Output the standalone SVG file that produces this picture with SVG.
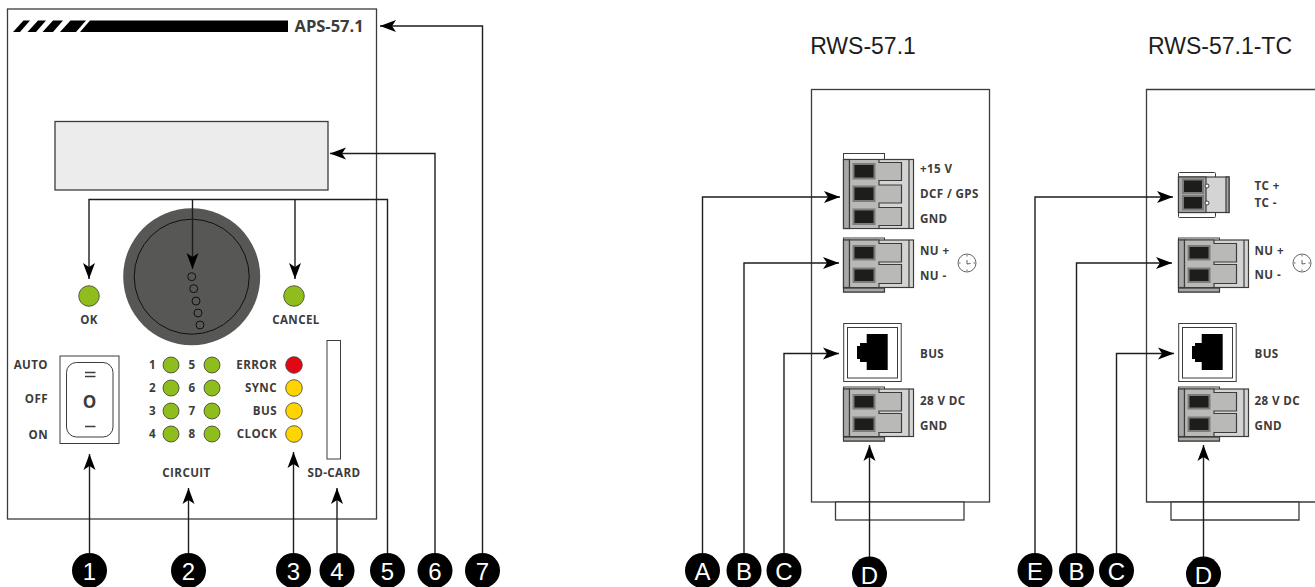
<svg xmlns="http://www.w3.org/2000/svg" width="1315" height="587" viewBox="0 0 1315 587">
<style>
text{font-family:"Open Sans","Liberation Sans",sans-serif}
.l{font-size:11.6px;font-weight:700;fill:#3c3c3b;letter-spacing:.4px}
.m{text-anchor:middle}.e{text-anchor:end}
.box{fill:#fff;stroke:#3c3c3b;stroke-width:1.3}
.c{fill:none;stroke:#1d1d1b;stroke-width:1.4;marker-end:url(#a)}
.led{stroke:#3c3c3b;stroke-width:.8}
.g{fill:#8fbe1c}.y{fill:#ffd500}.r{fill:#e30613}
.b{fill:#000}
.n{font-family:"Liberation Sans",Arial,sans-serif;font-size:24px;fill:#fff;text-anchor:middle}
.t{font-family:"Liberation Sans",Arial,sans-serif;font-size:23px;fill:#1d1d1b;text-anchor:middle}
.bd{fill:#d4d4d4;stroke:#3c3c3b;stroke-width:1.2}
.st{fill:#a8a8a7;stroke:#3c3c3b;stroke-width:1.2}
.fg{fill:#b9b9b8;stroke:#3c3c3b;stroke-width:1.2}
.pn{fill:#1d1d1b;stroke:#7c7c7b;stroke-width:2}
.wt{fill:#fff;stroke:#3c3c3b;stroke-width:1}
.ck{fill:none;stroke:#3c3c3b;stroke-width:.8}
</style>
<defs>
<marker id="a" markerUnits="userSpaceOnUse" markerWidth="17" markerHeight="13" refX="16" refY="6.5" orient="auto"><path d="M0,.5 L16,6.5 L0,12.5 L4,6.500z" fill="#000"/></marker>
<g id="ck"><circle r="9" class="ck"/><path d="M0,-3V1L3.500,.5" class="ck"/><path d="M0,-8v1.500M0,8v-1.500M-8,0h1.500M8,0h-1.500" class="ck"/></g>
<g id="two">
<rect x="843.500" y="238" width="41" height="54" class="wt"/>
<rect x="843.500" y="288" width="41" height="4" class="st"/>
<rect x="843.500" y="240" width="70" height="47.500" class="bd"/>
<rect x="843.500" y="240" width="6" height="47.500" class="st"/>
<path d="M849.500,240H879V243.500H901.500V262H879V264.500H901.500V283.500H879V287.500H849.500z" class="fg"/>
<rect x="853.500" y="246" width="21" height="13.500" class="pn"/>
<rect x="853.500" y="268.500" width="21" height="13.500" class="pn"/>
<path d="M909,240V287.500" stroke="#3c3c3b" stroke-width="1.200"/>
</g>
</defs>
<g id="aps">
<rect x="7.500" y="9" width="369" height="510" class="box"/>
<path class="b" d="M13,32L23.500,20.500H30L20,32zM27.500,32L38,20.500H46L36,32zM42.500,32L53,20.500H63L53,32zM60,32L70.500,20.500H86L76,32zM80,32L90,20.500H288V32z"/>
<text x="294.500" y="32" font-size="16.500" font-weight="700" fill="#3c3c3b">APS-57.1</text>
</g>
<g id="display"><rect x="55" y="121.500" width="273" height="68.500" fill="#ececec" stroke="#3c3c3b" stroke-width="1.300"/></g>
<g id="knob">
<circle cx="191.700" cy="276.700" r="68.500" fill="#575756"/>
<circle cx="191.700" cy="276.700" r="57.500" fill="none" stroke="#111" stroke-width="1"/>
<g fill="none" stroke="#111" stroke-width="1"><circle cx="191.700" cy="276.700" r="4"/><circle cx="193.700" cy="288.700" r="4"/><circle cx="196" cy="301" r="4"/><circle cx="198" cy="313" r="4"/><circle cx="200" cy="325" r="4"/></g>
</g>
<g id="ok"><circle cx="89" cy="296" r="10.300" class="led g"/><text x="89" y="324" class="l m">OK</text></g>
<g id="cancel"><circle cx="294" cy="296" r="10.300" class="led g"/><text x="296" y="324" class="l m">CANCEL</text></g>
<g id="switch">
<text x="48" y="369" class="l e">AUTO</text><text x="48" y="403" class="l e">OFF</text><text x="48" y="439" class="l e">ON</text>
<rect x="60" y="356" width="59" height="87.500" fill="#fff" stroke="#3c3c3b" stroke-width="1"/>
<rect x="66.500" y="362.500" width="46.500" height="74.500" rx="10" fill="#fff" stroke="#3c3c3b" stroke-width="1"/>
<path d="M85,372.500h10.500M85,376.500h10.500M85,426.500h10.500" stroke="#3c3c3b" stroke-width="1.500"/>
<text x="89.500" y="407.500" class="m" font-size="17" font-weight="700" fill="#3c3c3b">O</text>
</g>
<g id="circuit">
<g class="l e"><text x="156" y="369">1</text><text x="156" y="392">2</text><text x="156" y="415">3</text><text x="156" y="438">4</text><text x="195.500" y="369">5</text><text x="195.500" y="392">6</text><text x="195.500" y="415">7</text><text x="195.500" y="438">8</text></g>
<g class="led g"><circle cx="171" cy="365" r="8"/><circle cx="171" cy="388" r="8"/><circle cx="171" cy="411" r="8"/><circle cx="171" cy="434" r="8"/><circle cx="212" cy="365" r="8"/><circle cx="212" cy="388" r="8"/><circle cx="212" cy="411" r="8"/><circle cx="212" cy="434" r="8"/></g>
<text x="186.500" y="477" class="l m">CIRCUIT</text>
</g>
<g id="status">
<text x="277" y="369" class="l e">ERROR</text><text x="277" y="392" class="l e">SYNC</text><text x="277" y="415" class="l e">BUS</text><text x="277" y="438" class="l e">CLOCK</text>
<circle cx="294" cy="365" r="8.300" class="led r"/><circle cx="294" cy="388" r="8.300" class="led y"/><circle cx="294" cy="411" r="8.300" class="led y"/><circle cx="294" cy="434" r="8.300" class="led y"/>
</g>
<g id="sdcard"><rect x="327" y="340.500" width="13.500" height="118.500" fill="#fff" stroke="#3c3c3b" stroke-width="1"/><text x="334" y="477" class="l m">SD-CARD</text></g>

<g id="rws">
<rect x="811.500" y="89.500" width="178" height="412.500" class="box"/>
<rect x="835.500" y="502" width="128.500" height="18" class="box"/>
<text x="863" y="54" class="t">RWS-57.1</text>
</g>
<g id="rws-dcf">
<rect x="843.500" y="153.500" width="41" height="10" class="wt"/>
<rect x="843.500" y="159.500" width="70" height="69" class="bd"/>
<rect x="843.500" y="159.500" width="6" height="69" class="st"/>
<path d="M849.500,159.500H879V162.500H901.500V180.500H879V185H901.500V203H879V207.500H901.500V225.500H879V228.500H849.500z" class="fg"/>
<rect x="853.500" y="164" width="21" height="14.500" class="pn"/><rect x="853.500" y="186.500" width="21" height="14.500" class="pn"/><rect x="853.500" y="209.500" width="21" height="14.500" class="pn"/>
<path d="M909,159.500V228.500" stroke="#3c3c3b" stroke-width="1.200"/>
<g class="l"><text x="920" y="173">+15 V</text><text x="920" y="198">DCF / GPS</text><text x="920" y="223">GND</text></g>
</g>
<g id="rws-nu"><use href="#two"/><g class="l"><text x="920" y="255">NU +</text><text x="920" y="280">NU -</text></g><use href="#ck" x="967" y="263"/></g>
<g id="rws-bus">
<rect x="843.700" y="323.500" width="57.500" height="58" class="wt"/><rect x="847.500" y="327.500" width="50" height="50.500" class="wt"/>
<path class="b" d="M866.700,334H887.700V370H866.700V362H860V359H857V346H860V343H866.700z"/>
<text x="920" y="358" class="l">BUS</text>
</g>
<g id="rws-pwr"><use href="#two" y="149"/><g class="l"><text x="920" y="405">28 V DC</text><text x="920" y="430">GND</text></g></g>

<g id="rwstc">
<path d="M1315,89.500H1146.500V502H1315" class="box"/>
<path d="M1171,502V520H1299V502z" class="box"/>
<text x="1220" y="54" class="t">RWS-57.1-TC</text>
</g>
<g id="tc-tc">
<rect x="1178.500" y="172.500" width="37" height="45" rx="1" class="wt"/>
<rect x="1178.500" y="177" width="50.500" height="35.500" class="bd"/>
<rect x="1178.500" y="177" width="27.500" height="35.500" class="st"/>
<rect x="1226" y="177" width="3" height="35.500" class="st"/>
<rect x="1183" y="179.500" width="20" height="13.500" class="pn"/><rect x="1183" y="196" width="20" height="13.500" class="pn"/>
<circle cx="1207" cy="186" r="2" class="wt"/><circle cx="1207" cy="203" r="2" class="wt"/>
<g class="l"><text x="1254.500" y="190">TC +</text><text x="1254.500" y="207">TC -</text></g>
</g>
<g id="tc-nu"><use href="#two" x="335"/><g class="l"><text x="1254.500" y="255">NU +</text><text x="1254.500" y="279">NU -</text></g><use href="#ck" x="1302" y="263"/></g>
<g id="tc-bus">
<rect x="1178.700" y="323.500" width="57.500" height="58" class="wt"/><rect x="1182.500" y="327.500" width="50" height="50.500" class="wt"/>
<path class="b" d="M1201.700,334H1222.700V370H1201.700V362H1195V359H1192V346H1195V343H1201.700z"/>
<text x="1254.500" y="358" class="l">BUS</text>
</g>
<g id="tc-pwr"><use href="#two" x="335" y="149"/><g class="l"><text x="1254.500" y="405">28 V DC</text><text x="1254.500" y="430">GND</text></g></g>

<g id="connectors">
<path class="c" d="M89.500,553V454"/>
<path class="c" d="M188.500,553V488"/>
<path class="c" d="M293.500,553V452"/>
<path class="c" d="M337,553V488"/>
<path class="c" d="M387.500,553V199.500H89V279"/>
<path class="c" d="M192.500,199.500V269"/>
<path class="c" d="M295,199.500V279"/>
<path class="c" d="M435,553V153.500H330"/>
<path class="c" d="M482.500,553V26H380"/>
<path class="c" d="M702.500,553V197H840"/>
<path class="c" d="M744,553V263H839"/>
<path class="c" d="M784,553V353.500H839"/>
<path class="c" d="M869.500,557V445"/>
<path class="c" d="M1035,553V197H1173"/>
<path class="c" d="M1076.500,553V263H1172"/>
<path class="c" d="M1116.500,553V353.500H1174"/>
<path class="c" d="M1203.500,557V445"/>
</g>
<g id="b1"><circle cx="89.500" cy="570.500" r="17.500" class="b"/><text x="89.500" y="580" class="n">1</text></g>
<g id="b2"><circle cx="188.500" cy="570.500" r="17.500" class="b"/><text x="188.500" y="580" class="n">2</text></g>
<g id="b3"><circle cx="293.500" cy="570.500" r="17.500" class="b"/><text x="293.500" y="580" class="n">3</text></g>
<g id="b4"><circle cx="337" cy="570.500" r="17.500" class="b"/><text x="337" y="580" class="n">4</text></g>
<g id="b5"><circle cx="387.500" cy="570.500" r="17.500" class="b"/><text x="387.500" y="580" class="n">5</text></g>
<g id="b6"><circle cx="435" cy="570.500" r="17.500" class="b"/><text x="435" y="580" class="n">6</text></g>
<g id="b7"><circle cx="482.500" cy="570.500" r="17.500" class="b"/><text x="482.500" y="580" class="n">7</text></g>
<g id="bA"><circle cx="702.500" cy="570.500" r="17.500" class="b"/><text x="702.500" y="580" class="n">A</text></g>
<g id="bB"><circle cx="744" cy="570.500" r="17.500" class="b"/><text x="744" y="580" class="n">B</text></g>
<g id="bC"><circle cx="784" cy="570.500" r="17.500" class="b"/><text x="784" y="580" class="n">C</text></g>
<g id="bD"><circle cx="869.500" cy="574" r="17.500" class="b"/><text x="869.500" y="584" class="n">D</text></g>
<g id="bE"><circle cx="1035" cy="570.500" r="17.500" class="b"/><text x="1035" y="580" class="n">E</text></g>
<g id="bB2"><circle cx="1076.500" cy="570.500" r="17.500" class="b"/><text x="1076.500" y="580" class="n">B</text></g>
<g id="bC2"><circle cx="1116.500" cy="570.500" r="17.500" class="b"/><text x="1116.500" y="580" class="n">C</text></g>
<g id="bD2"><circle cx="1203.500" cy="574" r="17.500" class="b"/><text x="1203.500" y="584" class="n">D</text></g>
</svg>
